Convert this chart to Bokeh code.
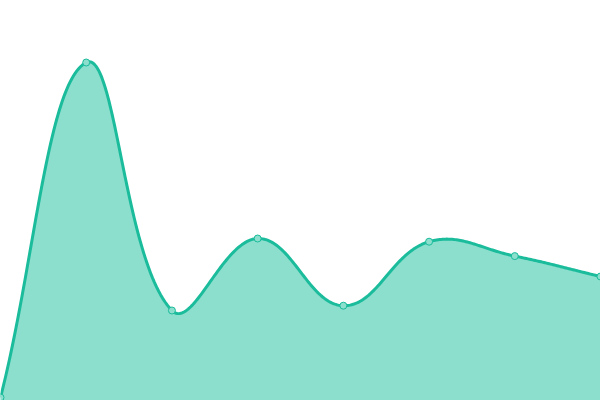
import numpy as np
from bokeh.plotting import figure
from bokeh.embed import file_html
from bokeh.resources import INLINE

# Data (category index and values)
labels = ["1", "2", "3", "4", "5", "6", "7", "8"]
values = [0.75, 84.5, 22.5, 40.5, 23.7, 39.7, 36.1, 31.0]

LINE = "#1abc9c"
FILL = "#8cdecd"
TENSION = 0.4

# chart area: 600 x 400 px, x across categories, y 0..100
AW, AH = 600.0, 400.0
YMAX = 100.0
n = len(values)
xs = np.arange(n, dtype=float)

def to_px(x, v):
    return x * AW / (n - 1), AH - v * AH / YMAX

def from_px(px, py):
    return px * (n - 1) / AW, (AH - py) * YMAX / AH

pts = [to_px(x, v) for x, v in zip(xs, values)]

# Chart.js-style spline control points
ctrl = []
for i, cur in enumerate(pts):
    prev = pts[i - 1] if i > 0 else cur
    nxt = pts[i + 1] if i < n - 1 else cur
    d01 = np.hypot(cur[0] - prev[0], cur[1] - prev[1])
    d12 = np.hypot(nxt[0] - cur[0], nxt[1] - cur[1])
    tot = d01 + d12
    s01 = d01 / tot if tot else 0
    s12 = d12 / tot if tot else 0
    fa, fb = TENSION * s01, TENSION * s12
    cp_prev = (cur[0] - fa * (nxt[0] - prev[0]), cur[1] - fa * (nxt[1] - prev[1]))
    cp_next = (cur[0] + fb * (nxt[0] - prev[0]), cur[1] + fb * (nxt[1] - prev[1]))
    cap = lambda p: (min(max(p[0], 0), AW), min(max(p[1], 0), AH))
    ctrl.append((cap(cp_prev), cap(cp_next)))

cx, cy = [], []
t = np.linspace(0, 1, 60)
for i in range(n - 1):
    p0 = np.array(pts[i]); p3 = np.array(pts[i + 1])
    p1 = np.array(ctrl[i][1]); p2 = np.array(ctrl[i + 1][0])
    seg = ((1 - t) ** 3)[:, None] * p0 + (3 * (1 - t) ** 2 * t)[:, None] * p1 \
        + (3 * (1 - t) * t ** 2)[:, None] * p2 + (t ** 3)[:, None] * p3
    if i > 0:
        seg = seg[1:]
    for px, py in seg:
        dx, dy = from_px(px, py)
        cx.append(dx); cy.append(dy)

p = figure(width=600, height=400, output_backend="svg", toolbar_location=None,
           x_range=(0, n - 1), y_range=(0, YMAX), min_border=0)
p.axis.visible = False
p.grid.visible = False
p.outline_line_color = None
p.background_fill_color = "white"
p.border_fill_color = "white"

p.varea(x=cx, y1=[-10] * len(cx), y2=cy, fill_color=FILL)
p.line(cx, cy, line_color=LINE, line_width=3, line_join="round")
p.scatter(xs, values, size=7, fill_color=FILL, line_color=LINE, line_width=1)

open("out.html", "w").write(file_html(p, INLINE))
